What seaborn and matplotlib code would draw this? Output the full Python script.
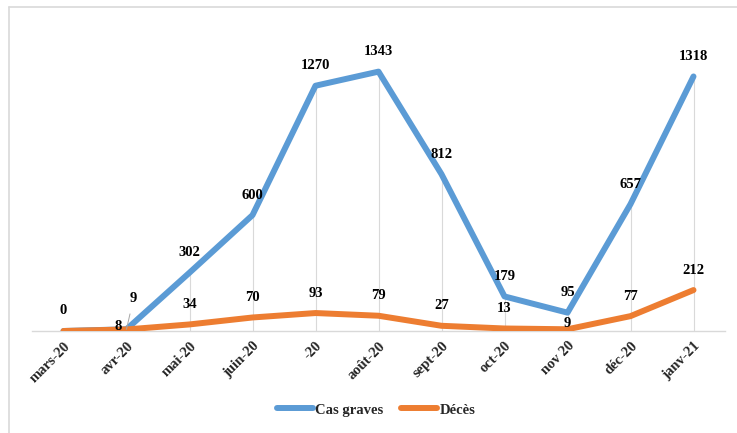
import matplotlib
matplotlib.use("Agg")
import matplotlib.pyplot as plt
from matplotlib.lines import Line2D
import seaborn as sns
import numpy as np

months = ["mars-20", "avr-20", "mai-20", "juin-20", "-20", "août-20",
          "sept-20", "oct-20", "nov 20", "déc-20", "janv-21"]
cas_graves = [0, 9, 302, 600, 1270, 1343, 812, 179, 95, 657, 1318]
deces = [0, 8, 34, 70, 93, 79, 27, 13, 9, 77, 212]

BLUE = "#5B9BD5"
ORANGE = "#ED7D31"
FONT = "Liberation Serif"

sns.set_theme(style="white")
plt.rcParams["font.family"] = [FONT, "DejaVu Serif"]

W, H = 737, 433
fig = plt.figure(figsize=(W / 100, H / 100), dpi=100)
ax = fig.add_axes([32 / W, 1 - 331 / H, (725 - 32) / W, (331 - 22) / H])

x = np.arange(len(months))

# drop lines
tops = np.maximum(cas_graves, deces)
ax.vlines(x, 0, tops, color="#d9d9d9", lw=0.8, zorder=1)

sns.lineplot(x=x, y=cas_graves, ax=ax, color=BLUE, lw=4.3, sort=False,
             label="Cas graves", zorder=3, solid_capstyle="round")
sns.lineplot(x=x, y=deces, ax=ax, color=ORANGE, lw=4.3, sort=False,
             label="Décès", zorder=4, solid_capstyle="round")

ax.set_xlim(-0.5, len(months) - 0.5)
ax.set_ylim(0, 1600)

lab_kw = dict(textcoords="offset points", ha="center", va="center",
              fontsize=10.5, fontweight="bold", color="black", zorder=6)
# Cas graves labels
for i, v in enumerate(cas_graves):
    if i == 0:
        ax.annotate(str(v), (i, v), xytext=(0, 14.4), **lab_kw)
    elif i == 1:
        ax.annotate(str(v), (i, v), xytext=(5, 22),
                    arrowprops=dict(arrowstyle="-", color="#a6a6a6", lw=0.7,
                                    shrinkA=4, shrinkB=0), **lab_kw)
    else:
        ax.annotate(str(v), (i, v), xytext=(0, 14.4), **lab_kw)
# Décès labels
for i, v in enumerate(deces):
    if i == 0:
        continue
    if i == 1:
        off = (-6, 2)
    elif i == 8:
        off = (0, 4.5)
    else:
        off = (0, 14.4)
    ax.annotate(str(v), (i, v), xytext=off, **lab_kw)

# axes styling
for s in ["top", "right", "left"]:
    ax.spines[s].set_visible(False)
ax.spines["bottom"].set_color("#d9d9d9")
ax.spines["bottom"].set_linewidth(1.0)
ax.set_yticks([])
ax.set_xticks(x)
ax.set_xticklabels(months, rotation=45, ha="right", rotation_mode="anchor",
                   fontsize=10.5, fontweight="bold", fontfamily=FONT)
ax.tick_params(axis="x", which="major", length=0, pad=6)
ax.set_xticks(np.arange(-0.5, len(months)), minor=True)
ax.tick_params(axis="x", which="minor", length=5, width=1.0, color="#d9d9d9",
               direction="out")
ax.set_xlabel("")
ax.set_ylabel("")

ax.get_legend().remove()
handles = [Line2D([0], [0], color=BLUE, lw=4.3),
           Line2D([0], [0], color=ORANGE, lw=4.3)]
fig.legend(handles, ["Cas graves", "Décès"], loc="center",
           bbox_to_anchor=(376 / W, 1 - 410 / H), ncol=2, frameon=False,
           handlelength=2.5, handletextpad=0.15, columnspacing=1.2,
           prop=dict(family=FONT, weight="bold", size=10.5))

# chart frame lines
fig.add_artist(Line2D([9 / W, 9 / W], [0, 1 - 7 / H], color="#d9d9d9", lw=1.2,
                      transform=fig.transFigure))
fig.add_artist(Line2D([9 / W, 1], [1 - 7 / H, 1 - 7 / H], color="#d9d9d9",
                      lw=1.2, transform=fig.transFigure))

fig.savefig("out.png", dpi=100)
